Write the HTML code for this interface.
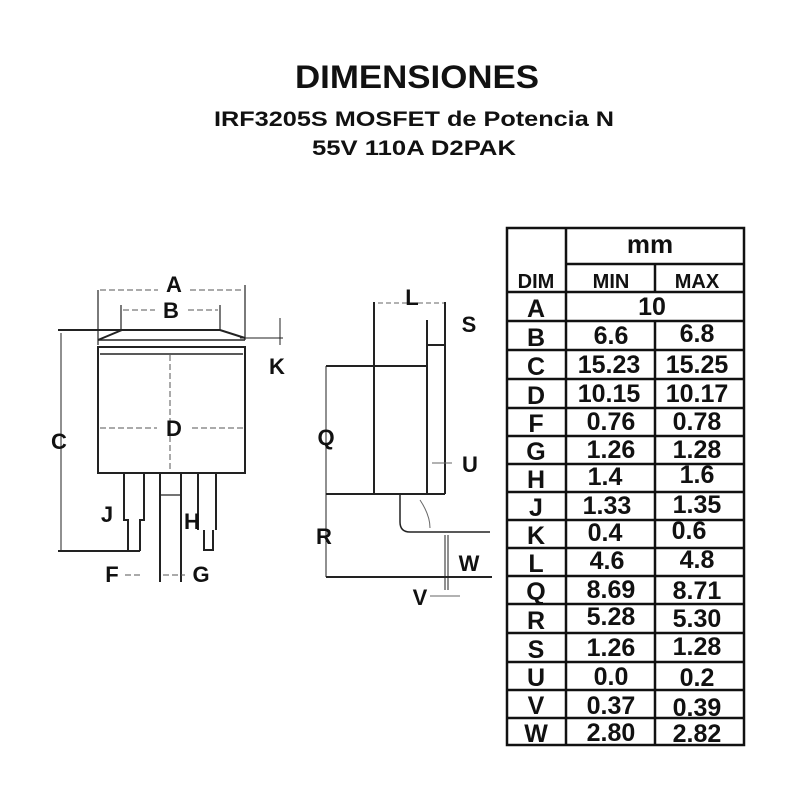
<!DOCTYPE html>
<html><head><meta charset="utf-8"><style>
html,body{margin:0;padding:0;background:#fff}
svg{display:block}
</style></head><body>
<svg width="800" height="800" viewBox="0 0 800 800" xmlns="http://www.w3.org/2000/svg" font-family="Liberation Sans, sans-serif">
<rect width="800" height="800" fill="#fff"/>
<text x="417" y="88" text-anchor="middle" font-size="32" font-weight="bold" fill="#111" textLength="244" lengthAdjust="spacingAndGlyphs">DIMENSIONES</text>
<text x="414" y="126" text-anchor="middle" font-size="21" font-weight="bold" fill="#111" textLength="400" lengthAdjust="spacingAndGlyphs">IRF3205S MOSFET de Potencia N</text>
<text x="414" y="155" text-anchor="middle" font-size="21" font-weight="bold" fill="#111" textLength="204" lengthAdjust="spacingAndGlyphs">55V 110A D2PAK</text>

<!-- front view -->
<g stroke="#222" fill="none" stroke-width="2">
<rect x="98" y="347" width="147" height="126"/>
<line x1="100" y1="354" x2="243" y2="354" stroke-width="1.5"/>
<path d="M98 340 L122 330 L220 330 L245 338"/>
<line x1="98" y1="340" x2="245" y2="340" stroke-width="1.5"/>
<line x1="58" y1="330" x2="122" y2="330"/>
<line x1="240" y1="338" x2="283" y2="338" stroke-width="1"/>
<line x1="98" y1="290" x2="98" y2="345" stroke-width="1.2"/>
<line x1="245" y1="285" x2="245" y2="340" stroke-width="1.2"/>
<line x1="121" y1="305" x2="121" y2="330" stroke-width="1.2"/>
<line x1="220" y1="305" x2="220" y2="330" stroke-width="1.2"/>
<line x1="280" y1="318" x2="280" y2="345" stroke-width="1"/>
<line x1="61" y1="333" x2="61" y2="551" stroke-width="1"/>
<line x1="58" y1="551" x2="140" y2="551"/>
<path d="M124 473 V520 H128 V551 M144 473 V520 H140 V551"/>
<path d="M160 473 V582 M181 473 V582"/>
<line x1="160" y1="495" x2="181" y2="495" stroke-width="1.2"/>
<path d="M198 473 V530 M216 473 V530 M204 530 V550 H213 V530"/>
</g>
<g stroke="#555" stroke-width="1" stroke-dasharray="6 3" fill="none">
<line x1="100" y1="290" x2="158" y2="290"/><line x1="190" y1="290" x2="243" y2="290"/>
<line x1="123" y1="310" x2="155" y2="310"/><line x1="188" y1="310" x2="218" y2="310"/>
<line x1="100" y1="428" x2="157" y2="428"/><line x1="192" y1="428" x2="243" y2="428"/>
<line x1="170" y1="355" x2="170" y2="470"/>
<line x1="125" y1="575" x2="142" y2="575"/><line x1="163" y1="575" x2="185" y2="575"/>
</g>
<g font-size="22" font-weight="bold" fill="#111" text-anchor="middle">
<text x="174" y="292">A</text><text x="171" y="318">B</text>
<text x="277" y="374">K</text><text x="59" y="449">C</text>
<text x="174" y="436">D</text><text x="107" y="522">J</text>
<text x="192" y="529">H</text><text x="112" y="582">F</text><text x="201" y="582">G</text>
</g>

<!-- side view -->
<g stroke="#222" fill="none" stroke-width="2">
<line x1="374" y1="302" x2="374" y2="494"/>
<line x1="427" y1="320" x2="427" y2="494"/>
<line x1="445" y1="302" x2="445" y2="494"/>
<line x1="427" y1="345" x2="445" y2="345"/>
<line x1="326" y1="366" x2="427" y2="366"/>
<line x1="326" y1="494" x2="445" y2="494"/>
<line x1="326" y1="577" x2="492" y2="577"/>
<line x1="326" y1="366" x2="326" y2="577" stroke-width="1"/>
<path d="M400 494 V522 Q400 532 410 532 H445" stroke-width="1.5"/>
<line x1="445" y1="532" x2="490" y2="532" stroke-width="1.5"/>
<line x1="445" y1="535" x2="445" y2="590" stroke-width="1"/>
<line x1="448" y1="535" x2="448" y2="590" stroke-width="1"/>
</g>
<g stroke="#666" stroke-width="1" fill="none">
<line x1="378" y1="303" x2="444" y2="303" stroke-dasharray="5 3"/>
<line x1="432" y1="463" x2="452" y2="463"/>
<line x1="430" y1="596" x2="460" y2="596"/>
<path d="M420 500 Q430 515 430 528"/>
</g>
<g font-size="22" font-weight="bold" fill="#111" text-anchor="middle">
<text x="412" y="305">L</text><text x="469" y="332">S</text>
<text x="326" y="445">Q</text><text x="470" y="472">U</text>
<text x="324" y="544">R</text><text x="469" y="571">W</text><text x="420" y="605">V</text>
</g>

<!-- table -->
<g stroke="#111" stroke-width="2.5" fill="none">
<rect x="507" y="228" width="237" height="517"/>
<line x1="566" y1="228" x2="566" y2="745"/>
<line x1="655" y1="264" x2="655" y2="292"/>
<line x1="655" y1="321" x2="655" y2="745"/>
<line x1="566" y1="264" x2="744" y2="264"/>
<line x1="507" y1="292" x2="744" y2="292"/>
<line x1="507" y1="321" x2="744" y2="321"/>
<line x1="507" y1="350" x2="744" y2="350"/>
<line x1="507" y1="379" x2="744" y2="379"/>
<line x1="507" y1="408" x2="744" y2="408"/>
<line x1="507" y1="436" x2="744" y2="436"/>
<line x1="507" y1="464" x2="744" y2="464"/>
<line x1="507" y1="492" x2="744" y2="492"/>
<line x1="507" y1="520" x2="744" y2="520"/>
<line x1="507" y1="548" x2="744" y2="548"/>
<line x1="507" y1="576" x2="744" y2="576"/>
<line x1="507" y1="604" x2="744" y2="604"/>
<line x1="507" y1="633" x2="744" y2="633"/>
<line x1="507" y1="662" x2="744" y2="662"/>
<line x1="507" y1="690" x2="744" y2="690"/>
<line x1="507" y1="718" x2="744" y2="718"/>
</g>
<g font-weight="bold" fill="#111" text-anchor="middle" font-size="25">
<text x="650" y="253" font-size="26">mm</text>
<text x="536" y="288" font-size="20">DIM</text>
<text x="611" y="288" font-size="20">MIN</text>
<text x="697" y="288" font-size="20">MAX</text>
<text x="536" y="317">A</text><text x="652" y="315">10</text>
<text x="536" y="346">B</text><text x="611" y="344">6.6</text><text x="697" y="342">6.8</text>
<text x="536" y="375">C</text><text x="609" y="373">15.23</text><text x="697" y="373">15.25</text>
<text x="536" y="404">D</text><text x="609" y="402">10.15</text><text x="697" y="402">10.17</text>
<text x="536" y="432">F</text><text x="611" y="430">0.76</text><text x="697" y="430">0.78</text>
<text x="536" y="460">G</text><text x="611" y="458">1.26</text><text x="697" y="458">1.28</text>
<text x="536" y="488">H</text><text x="605" y="485">1.4</text><text x="697" y="483">1.6</text>
<text x="536" y="516">J</text><text x="607" y="514">1.33</text><text x="697" y="513">1.35</text>
<text x="536" y="544">K</text><text x="605" y="541">0.4</text><text x="689" y="539">0.6</text>
<text x="536" y="572">L</text><text x="607" y="569">4.6</text><text x="697" y="568">4.8</text>
<text x="536" y="600">Q</text><text x="611" y="598">8.69</text><text x="697" y="599">8.71</text>
<text x="536" y="629">R</text><text x="611" y="625">5.28</text><text x="697" y="627">5.30</text>
<text x="536" y="658">S</text><text x="611" y="656">1.26</text><text x="697" y="655">1.28</text>
<text x="536" y="686">U</text><text x="611" y="685">0.0</text><text x="697" y="686">0.2</text>
<text x="536" y="714">V</text><text x="611" y="714">0.37</text><text x="697" y="716">0.39</text>
<text x="536" y="742">W</text><text x="611" y="741">2.80</text><text x="697" y="742">2.82</text>
</g>
</svg>
</body></html>
